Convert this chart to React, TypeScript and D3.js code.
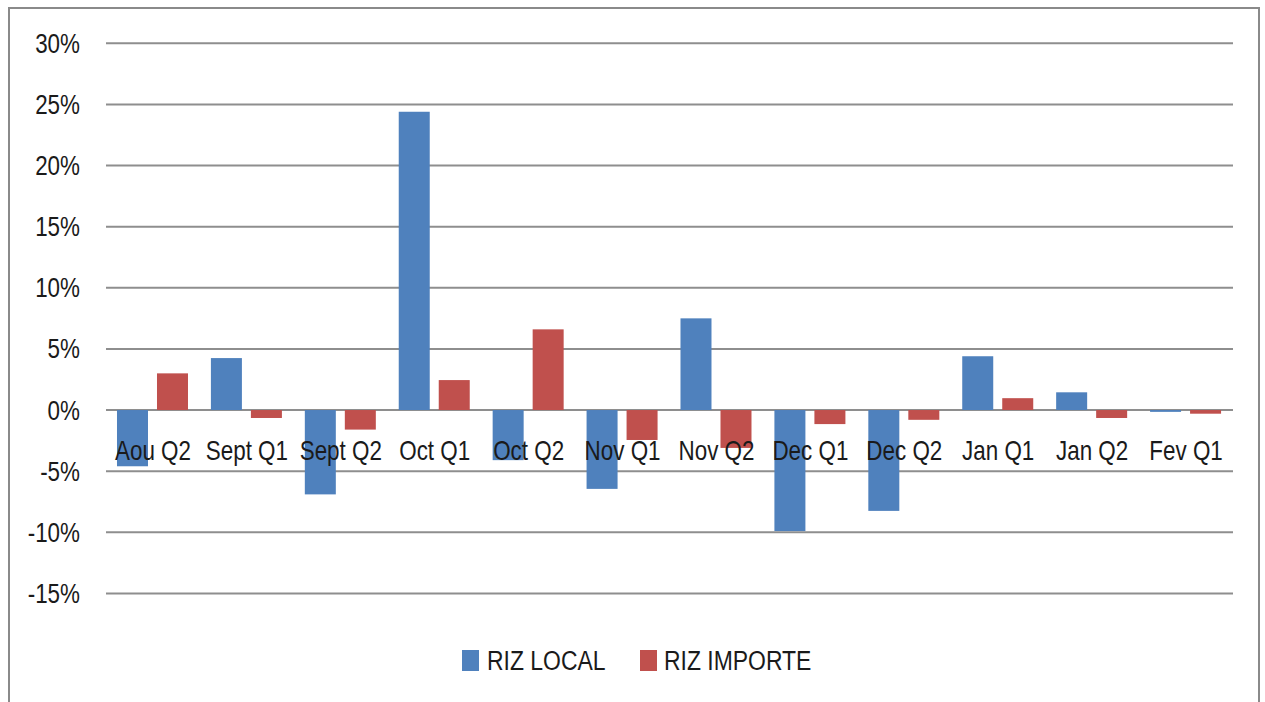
import React from "react";
import * as d3 from "d3";

const categories = ["Aou Q2", "Sept Q1", "Sept Q2", "Oct Q1", "Oct Q2", "Nov Q1", "Nov Q2", "Dec Q1", "Dec Q2", "Jan Q1", "Jan Q2", "Fev Q1"];
const rizLocal = [-4.6, 4.25, -6.9, 24.4, -4.1, -6.45, 7.5, -9.9, -8.25, 4.4, 1.45, -0.15];
const rizImporte = [3.0, -0.65, -1.6, 2.45, 6.6, -2.45, -3.1, -1.15, -0.8, 0.97, -0.65, -0.3];
const seriesNames = ["RIZ LOCAL", "RIZ IMPORTE"];
const seriesColors = ["#4F81BD", "#C0504D"];
const yTicks = [-15, -10, -5, 0, 5, 10, 15, 20, 25, 30];

const FONT = "'Liberation Sans', Arial, sans-serif";

function NText({ x, y, anchor, sx = 0.83, children }: { x: number; y: number; anchor?: string; sx?: number; children: React.ReactNode }) {
  return (
    <text
      transform={`translate(${x},${y}) scale(${sx},1)`}
      textAnchor={anchor || "start"}
      fontFamily={FONT}
      fontSize={27}
      fill="#1a1a1a"
    >
      {children}
    </text>
  );
}

export default function App() {
  const W = 1265, H = 702;
  const plotL = 106, plotR = 1233;
  const y = d3.scaleLinear().domain([-15, 30]).range([593.4, 43.3]);
  const x0 = d3.scaleBand<string>().domain(categories).range([plotL, plotR]).padding(0);
  const bw = x0.bandwidth();
  const x1 = d3.scaleBand<string>().domain(seriesNames).range([bw * 0.117, bw * 0.873]).paddingInner(0.225).paddingOuter(0);
  const series = [rizLocal, rizImporte];

  return (
    <svg width={W} height={H} style={{ position: "absolute", left: 0, top: 0, background: "#fff" }}>
      <rect x={9} y={8} width={1250} height={720} fill="#fff" stroke="#8a8a8a" strokeWidth={2} />
      {yTicks.map((t) => (
        <g key={t}>
          <line x1={plotL} x2={plotR} y1={y(t)} y2={y(t)} stroke="#8e8e8e" strokeWidth={2} />
          <NText x={80} y={y(t) + 9.5} anchor="end">{t}%</NText>
        </g>
      ))}
      {categories.map((c, i) => (
        <g key={c} transform={`translate(${x0(c)},0)`}>
          {series.map((s, k) => {
            const v = s[i];
            const y0 = y(0);
            const yv = y(v);
            return (
              <rect
                key={k}
                x={x1(seriesNames[k])}
                y={Math.min(y0, yv)}
                width={x1.bandwidth()}
                height={Math.abs(yv - y0)}
                fill={seriesColors[k]}
              />
            );
          })}
        </g>
      ))}
      {categories.map((c) => (
        <NText key={c} x={(x0(c) as number) + bw / 2} y={460} anchor="middle">{c}</NText>
      ))}
      <g>
        <rect x={462} y={650} width={17} height={21} fill={seriesColors[0]} />
        <NText x={487} y={670} sx={0.85}>{seriesNames[0]}</NText>
        <rect x={640} y={650} width={17} height={21} fill={seriesColors[1]} />
        <NText x={664} y={670} sx={0.85}>{seriesNames[1]}</NText>
      </g>
    </svg>
  );
}
